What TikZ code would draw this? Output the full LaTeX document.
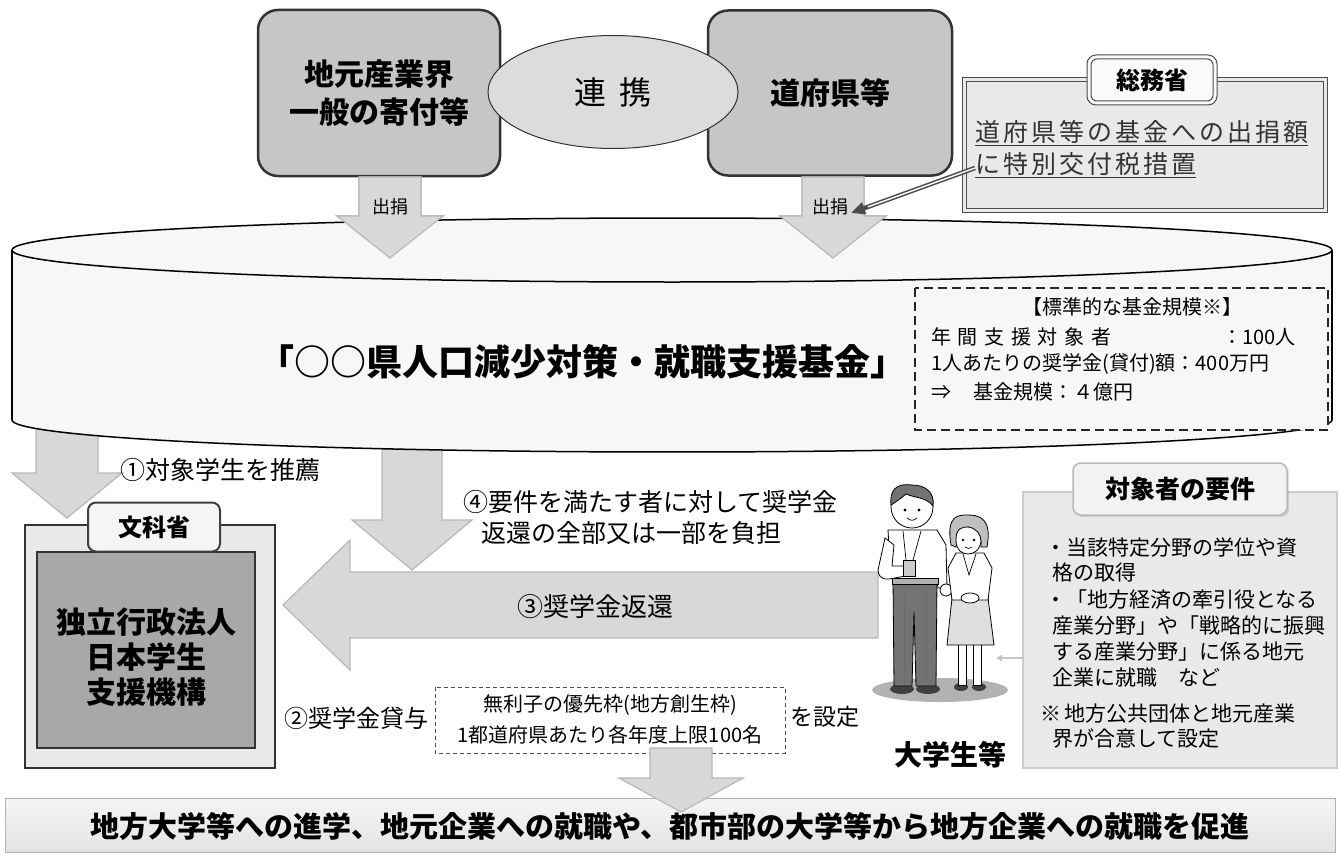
\documentclass[tikz,border=0pt]{standalone}
\usepackage{fontspec}
\setmainfont{Noto Sans CJK JP}
\usetikzlibrary{arrows.meta,shapes.geometric,shadows}

\definecolor{boxgray}{HTML}{C6C6C6}
\definecolor{linkgray}{HTML}{DCDCDC}
\definecolor{arrowfill}{HTML}{D8D8D8}
\definecolor{arrowedge}{HTML}{B8B8B8}
\definecolor{panelgray}{HTML}{E9E9E9}
\definecolor{innergray}{HTML}{A8A8A8}
\definecolor{cylfill}{HTML}{F7F7F7}
\definecolor{inkgray}{HTML}{333333}

% down-pointing block arrow: centre x, shaft half width, head half width, top, head top, tip, style
\newcommand\fatdown[7]{%
  \draw[#7] ({#1-#2},#4) -- ({#1+#2},#4) -- ({#1+#2},#5) -- ({#1+#3},#5)
    -- (#1,#6) -- ({#1-#3},#5) -- ({#1-#2},#5) -- cycle;}

\begin{document}
\begin{tikzpicture}[x=1pt,y=-1pt,
  txt/.style={inner sep=0pt, text=black},
  roundbox/.style={draw=black!80, line width=2.5pt, rounded corners=20pt, fill=boxgray,
    align=center, font=\bfseries\fontsize{30}{40}\selectfont},
  fatarrow/.style={fill=arrowfill, draw=arrowedge, line width=1.2pt},
  tab/.style={rounded corners=8pt, fill=white!95!gray, draw=black!70, line width=1.2pt},
  thinrule/.style={draw=black!70, line width=1pt},
]
\fill[white] (0,0) rectangle (1340,856);
\useasboundingbox (0,0) rectangle (1340,856);

% ---------- funding sources ----------
\node[roundbox, minimum width=242pt, minimum height=166pt] (donor) at (379,93) {地元産業界\\[-2pt]一般の寄付等};
\node[roundbox, minimum width=244pt, minimum height=165pt] (pref) at (830,93) {道府県等};

% ---------- contributions flowing into the fund ----------
\fatdown{390}{31}{53}{177}{216}{258}{fatarrow}
\fatdown{833}{31}{53}{177}{216}{258}{fatarrow}

% ---------- lower arrows that start behind the fund ----------
\fatdown{67}{31}{55}{400}{473}{518}{fatarrow}
\fatdown{412}{30}{60}{430}{520}{570}{fatarrow}

% ---------- the fund (cylinder) ----------
\fill[cylfill] (12,250) rectangle (1332,420);
\fill[cylfill] (672,420) ellipse [x radius=660, y radius=32];
\draw[black, line width=1.5pt] plot[domain=0:180, samples=90] ({672+660*cos(\x)}, {420+32*sin(\x)});
\draw[black, line width=1.5pt] (12,250) -- (12,420) (1332,250) -- (1332,420);
\draw[black, line width=1.5pt, fill=cylfill] (672,250) ellipse [x radius=660, y radius=32];

% arrowheads lie over the rim of the fund
\fatdown{390}{31}{53}{177}{216}{258}{fatarrow}
\fatdown{833}{31}{53}{177}{216}{258}{fatarrow}
\fill[arrowfill] (360,200) rectangle (420,217);
\fill[arrowfill] (803,200) rectangle (863,217);
\node[txt, font=\fontsize{18}{20}\selectfont] (give1) at (390,207) {出捐};
\node[txt, font=\fontsize{18}{20}\selectfont] (give2) at (830,207) {出捐};

\node[txt, font=\bfseries\fontsize{36}{40}\selectfont] (fund) at (582,362) {「○○県人口減少対策・就職支援基金」};

% standard size of the fund
\draw[black!85, line width=2.6pt, dash pattern=on 9pt off 5pt, fill=cylfill] (915,288) rectangle (1328,430);
\node[txt, font=\fontsize{20}{24}\selectfont] (scale0) at (1132,307) {【標準的な基金規模※】};
\node[txt, anchor=west, font=\fontsize{20}{24}\selectfont] (scale1) at (931,337) {年\,\,間\,\,支\,\,援\,\,対\,\,象\,\,者};
\node[txt, anchor=west, font=\fontsize{20}{24}\selectfont] (scale1b) at (1222,337) {：100人};
\node[txt, anchor=west, font=\fontsize{20}{24}\selectfont] (scale2) at (931,364) {1人あたりの奨学金(貸付)額：400万円};
\node[txt, anchor=west, font=\fontsize{20}{24}\selectfont] (scale3) at (931,392) {⇒\hspace{22pt}基金規模：４億円};

% ---------- Ministry of Internal Affairs ----------
\fill[panelgray] (962,78) rectangle (1327,212);
\draw[thinrule] (962,78) rectangle (1327,212);
\draw[thinrule] (966,82) rectangle (1323,208);
\node[tab, draw=none, fill=white!96!gray, minimum width=130pt, minimum height=50pt] (mic) at (1152,80) {};
\draw[thinrule, rounded corners=9pt] (1087,55) rectangle (1217,105);
\draw[thinrule, rounded corners=6pt] (1091,59) rectangle (1213,101);
\node[txt, font=\bfseries\fontsize{24}{28}\selectfont] (mictitle) at (mic) {総務省};
\node[txt, anchor=west, text=inkgray, font=\addfontfeature{LetterSpace=12}\fontsize{25}{30}\selectfont] (mic1) at (975,133) {\underline{道府県等の基金への出捐額}};
\node[txt, anchor=west, text=inkgray, font=\addfontfeature{LetterSpace=12}\fontsize{25}{30}\selectfont] (mic2) at (975,165) {\underline{に特別交付税措置}};
\coordinate (micfrom) at (975,168);
\coordinate (micto) at (851,213);
\draw[black!70, line width=4.5pt, -{Triangle[length=14pt,width=12pt]}] (micfrom) -- (micto);
\draw[white, line width=1.4pt, shorten >=18pt] (micfrom) -- (micto);

% ---------- recommendation and refund arrows ----------
\node[txt, anchor=west, font=\fontsize{25}{30}\selectfont] (step1) at (120,470) {①対象学生を推薦};
\node[txt, anchor=west, font=\fontsize{25}{30}\selectfont] (step4a) at (463,502) {④要件を満たす者に対して奨学金};
\node[txt, anchor=west, font=\fontsize{25}{30}\selectfont] (step4b) at (481,533) {返還の全部又は一部を負担};

\draw[fatarrow] (283,605) -- (350,540) -- (350,572) -- (878,572) -- (878,638) -- (350,638) -- (350,670) -- cycle;
\node[txt, font=\fontsize{26}{30}\selectfont] (step3) at (595,607) {③奨学金返還};

% ---------- JASSO ----------
\draw[black!80, line width=2.5pt, fill=panelgray] (25,525) rectangle (275,768);
\draw[black!80, line width=2.5pt, fill=innergray] (37,552) rectangle (255,748);
\node[tab, line width=2pt, draw=black!75, fill=white!92!gray, minimum width=132pt, minimum height=49pt,
  font=\bfseries\fontsize{24}{28}\selectfont] (mext) at (154,527) {文科省};
\node[txt, align=center, font=\bfseries\fontsize{30}{35}\selectfont] (jasso) at (146,657) {独立行政法人\\日本学生\\支援機構};

% ---------- loans ----------
\node[txt, anchor=west, font=\fontsize{24}{28}\selectfont] (step2) at (284,718) {②奨学金貸与};
\draw[black!70, line width=1pt, dash pattern=on 4pt off 3pt] (435,687) rectangle (785,753);
\node[txt, font=\fontsize{20}{24}\selectfont] (quota1) at (610,705) {無利子の優先枠(地方創生枠)};
\node[txt, font=\fontsize{20}{24}\selectfont] (quota2) at (610,735) {1都道府県あたり各年度上限100名};
\node[txt, anchor=west, font=\fontsize{23}{28}\selectfont] (setq) at (790,717) {を設定};

% ---------- outcome ----------
\shade[top color=gray!8, bottom color=gray!22, draw=gray!60, line width=1pt] (5,798) rectangle (1335,852);
\fatdown{681}{31}{62}{748}{778}{812}{fatarrow}
\node[txt, font=\bfseries\fontsize{29}{32}\selectfont] (goal) at (670,826) {地方大学等への進学、地元企業への就職や、都市部の大学等から地方企業への就職を促進};

% ---------- requirements ----------
\draw[gray!40, line width=1.5pt, fill=panelgray] (1023,492) rectangle (1337,768);
\node[tab, draw=gray!55, line width=1.5pt, fill=white!90!gray, minimum width=214pt, minimum height=52pt,
  drop shadow={opacity=0.25, shadow xshift=2pt, shadow yshift=-2pt},
  font=\bfseries\fontsize{25}{30}\selectfont] (req) at (1180,489) {対象者の要件};
\foreach \xx/\yy/\tt [count=\i] in {
  1045/548/・当該特定分野の学位や資,
  1052/573/格の取得,
  1045/600/・「地方経済の牽引役となる,
  1052/626/産業分野」や「戦略的に振興,
  1052/652/する産業分野」に係る地元,
  1052/678/企業に就職\hspace{21pt}など,
  1040/714/※\,地方公共団体と地元産業,
  1052/739/界が合意して設定}
  \node[txt, anchor=west, font=\fontsize{21}{25}\selectfont] (reqline\i) at (\xx,\yy) {\tt};
\coordinate (reqedge) at (1022,658);
\coordinate (reqpoint) at (996,658);
\draw[gray!45, line width=2pt, -{Triangle[length=6pt,width=6pt]}] (reqedge) -- (reqpoint);

% ---------- students ----------
% ground shadow
\fill[gray!60] (940,690) ellipse [x radius=68, y radius=12];
% young man
\fill[black!75] (902,689) ellipse [x radius=12, y radius=5];
\fill[black!75] (928,689) ellipse [x radius=12, y radius=5];
\draw[black, line width=0.8pt, fill=black!55] (893,580) -- (937,580) -- (936,686) -- (916,686) -- (914,612) -- (912,686) -- (894,686) -- cycle;
\draw[black!60, line width=0.6pt] (904,590) -- (905,684) (926,590) -- (926,684);
\draw[black, line width=0.8pt, fill=white] (888,530) -- (937,530) -- (946,545) -- (947,588) -- (938,588) -- (937,583) -- (893,583) -- (890,565) -- cycle;
\draw[black, line width=0.8pt, fill=black!30] (892,578) rectangle (938,584);
\draw[black, line width=0.8pt, fill=white] (946,590) circle (6);
\draw[black, line width=0.8pt, fill=white] (885,538) -- (878,570) .. controls (879,580) and (885,580) .. (895,578) -- (905,576) -- (905,566) -- (892,566) -- (894,545) -- cycle;
\draw[black, line width=0.8pt, fill=black!20] (903,560) rectangle (915,576);
\draw[black, line width=0.7pt] (903,531) -- (906,560) (921,531) -- (913,560);
\draw[black, line width=0.8pt, fill=white] (912,507) circle (21);
\draw[black, line width=0.8pt, fill=black!55] (891,505) .. controls (889,484) and (903,484) .. (912,485)
  .. controls (925,485) and (935,492) .. (933,506) .. controls (926,497) and (915,498) .. (906,494)
  .. controls (900,499) and (896,502) .. (891,505) -- cycle;
\fill[black] (905,510) circle (1.6) (919,510) circle (1.6);
\draw[black, line width=0.7pt] (907,518) .. controls (910,521) and (914,521) .. (917,518);
% young woman
\fill[black!75] (961,687) ellipse [x radius=7, y radius=4];
\fill[black!75] (979,687) ellipse [x radius=7, y radius=4];
\draw[black, line width=0.8pt, fill=white] (958,642) rectangle (966,685);
\draw[black, line width=0.8pt, fill=white] (973,642) rectangle (981,685);
\draw[black, line width=0.8pt, fill=gray!25] (952,598) -- (988,598) -- (994,645) -- (947,645) -- cycle;
\draw[black, line width=0.8pt, fill=white] (956,553) -- (984,553) -- (992,568) -- (988,600) -- (952,600) -- (948,568) -- cycle;
\draw[black, line width=0.7pt] (963,554) -- (969,575) -- (976,554);
\draw[black, line width=0.8pt, fill=white] (970,598) ellipse [x radius=9, y radius=5];
\draw[black, line width=0.8pt, fill=gray!50] (951,545) .. controls (946,515) and (958,515) .. (968,515)
  .. controls (981,515) and (992,520) .. (987,547) -- (981,547) .. controls (982,535) and (977,530) .. (968,527)
  .. controls (962,532) and (957,536) .. (956,547) -- cycle;
\draw[black, line width=0.8pt, fill=white] (956,540) .. controls (956,528) and (962,527) .. (968,527)
  .. controls (976,528) and (981,534) .. (981,541) .. controls (980,550) and (974,554) .. (968,554)
  .. controls (962,554) and (956,550) .. (956,540) -- cycle;
\fill[black] (963,540) circle (1.4) (974,540) circle (1.4);
\draw[black, line width=0.6pt] (965,547) .. controls (967,549) and (970,549) .. (972,547);
\node[txt, font=\bfseries\fontsize{28}{32}\selectfont] (students) at (950,755) {大学生等};

% the alliance ellipse sits over both source boxes
\node[ellipse, draw=black!80, line width=1pt, fill=linkgray, minimum width=250pt, minimum height=113pt,
  font=\fontsize{32}{38}\selectfont] (link) at (613,92) {連\hspace{14pt}携};
\end{tikzpicture}
\end{document}
